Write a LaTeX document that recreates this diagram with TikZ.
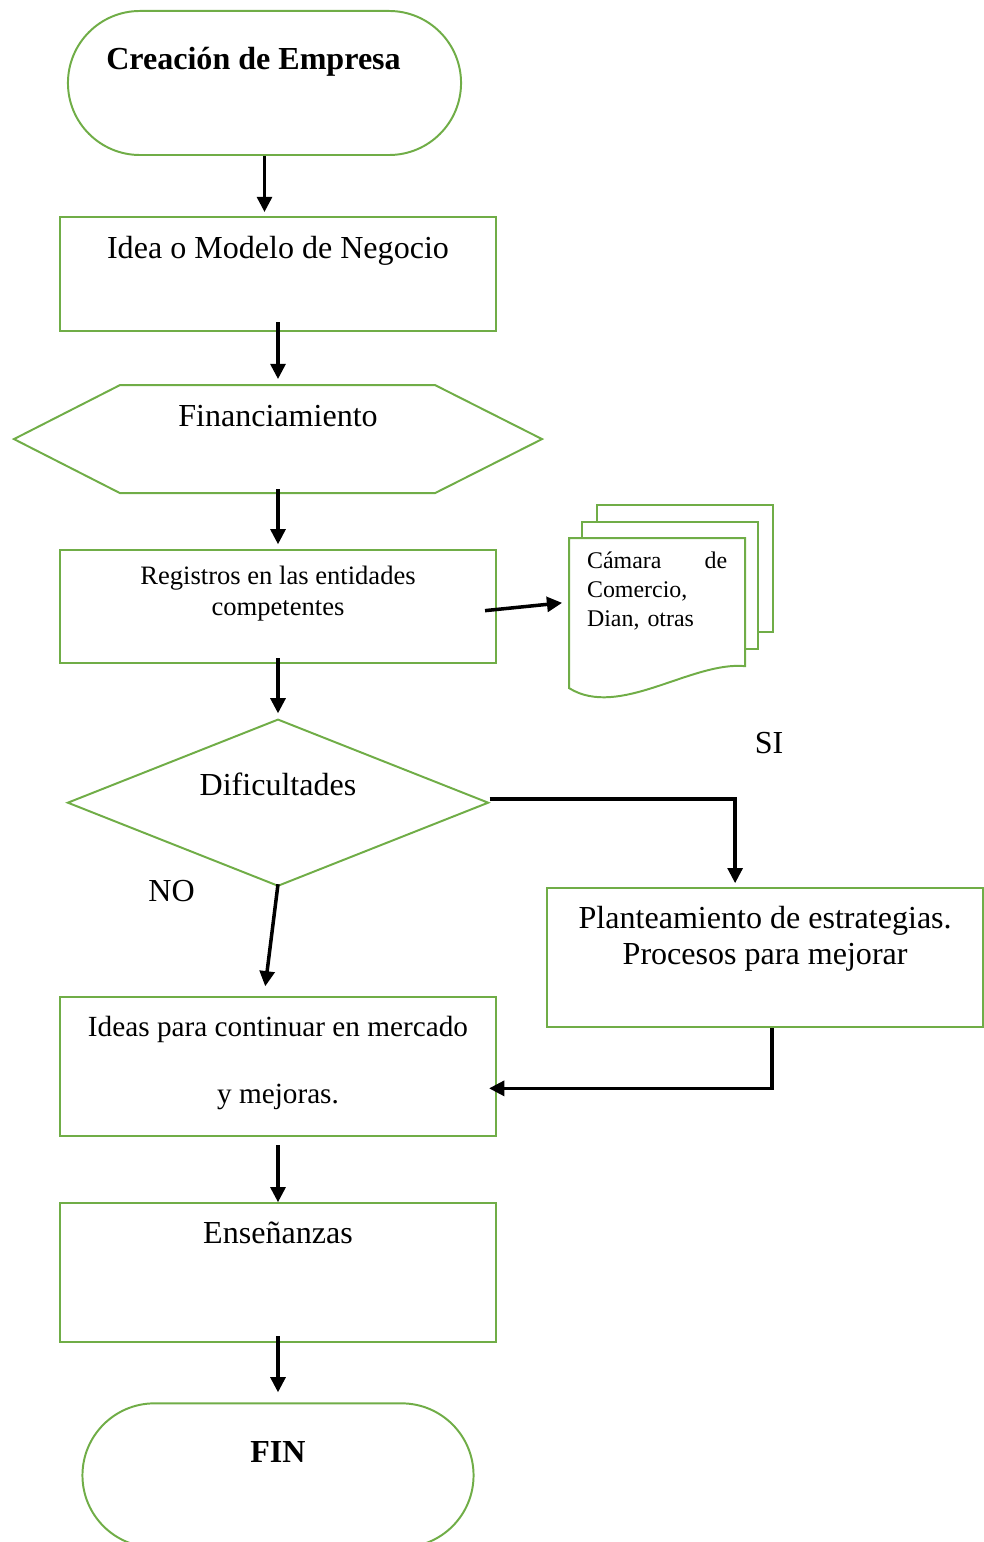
\documentclass[tikz,border=0pt]{standalone}
\usepackage{fontspec}
\setmainfont{Liberation Serif}
\usepackage{tikz}
\usetikzlibrary{positioning, arrows.meta, calc, shapes.geometric}
\usepackage[dvipsnames]{xcolor}
\definecolor{boxgreen}{HTML}{70AD47}

\begin{document}
\begin{tikzpicture}[->, >={Triangle[length=0.38cm, width=0.37cm]}, x=0.025cm, y=-0.025cm, on grid,
    box/.style={draw=boxgreen, line width=1.4pt, rectangle, inner sep=0pt, align=center,
      font=\fontsize{22.8}{25.6}\selectfont, text height=0.55cm},
    proc/.style={box, minimum width=10.9cm},
    term/.style={box, rounded corners=1.8cm, minimum height=3.6cm,
      font=\fontsize{22.8}{25.6}\selectfont\bfseries},
    tag/.style={inner sep=0pt, font=\fontsize{22.8}{25.6}\selectfont},
    flowline/.style={draw, line width=2.5pt},
    outline/.style={-, draw=boxgreen, line width=1.4pt}]
  \useasboundingbox (0,0) rectangle (984,1542);
  \clip (0,0) rectangle (984,1542);

  \node[term, minimum width=9.825cm, text depth=1.2cm] (start) at (264.5,83) {Creación de Empresa\hspace*{0.55cm}};
  \node[proc, minimum height=2.85cm, text depth=1.35cm, below right=4.775cm and 0.3375cm of start] (idea) {Idea o Modelo de Negocio};
  \node[box, draw=none, minimum width=13.15cm, minimum height=2.65cm, text depth=1.2cm, below=4.125cm of idea] (fina) {Financiamiento};
  \node[proc, minimum height=2.825cm, font=\fontsize{18.9}{22}\selectfont, text height=0.45cm, text depth=0.025cm,
    below=4.1875cm of fina] (reg) {Registros en las entidades\\competentes};
  \node[box, draw=none, minimum width=4.35cm, minimum height=3.7cm, text width=3.5cm, align=left,
    font=\fontsize{17}{20.6}\selectfont, text height=0.45cm, text depth=2.7cm,
    below right=0.1625cm and 9.475cm of reg] (docs) {Cámara\hfill de\\Comercio,\\Dian, otras};
  \node[box, diamond, aspect=2.5, minimum width=10.525cm, minimum height=4.175cm, text depth=0.9cm, below=4.9cm of reg] (dif) {Dificultades};
  \node[proc, minimum height=3.475cm, text depth=0.2cm, below right=3.875cm and 12.175cm of dif] (plan) {Planteamiento de estrategias.\\Procesos para mejorar};
  \node[proc, minimum height=3.475cm, font=\fontsize{20.8}{23.4}\selectfont, text height=2cm, text depth=0.175cm,
    below=6.6cm of dif] (ideas) {Ideas para continuar en mercado\\[0.85cm]y mejoras.};
  \node[proc, minimum height=3.475cm, text depth=2.025cm, below=5.15cm of ideas] (ens) {Enseñanzas};
  \node[term, minimum width=9.775cm, text depth=1.2cm, below=5.0625cm of ens] (fin) {FIN};

  \node[tag, above right=5.375cm and 0.1cm of plan] (si) {SI};
  \node[tag, below left=2.2cm and 2.66cm of dif] (no) {NO};

  % hexagon and stacked documents
  \draw[outline] (fina.west) -- ($(fina.north west)+(106,0)$) -- ($(fina.north east)+(-107,0)$) -- (fina.east)
    -- ($(fina.south east)+(-107,0)$) -- ($(fina.south west)+(106,0)$) -- cycle;
  \draw[outline] ($(docs.north west)+(28,-16)$) -- ++(0,-17) -- ($(docs.north east)+(28,-33)$) -- ++(0,127)
    -- ($(docs.north east)+(13,94)$);
  \draw[outline] ($(docs.north west)+(13,0)$) -- ++(0,-16) -- ($(docs.north east)+(13,-16)$) -- ++(0,127)
    -- ($(docs.north east)+(0,111)$);
  \draw[outline] (docs.north west) -- (docs.north east) -- ($(docs.south east)+(0,-22)$)
    .. controls ($(docs.south east)+(-54,-27)$) and ($(docs.south west)+(50,31)$) .. (docs.south west) -- cycle;

  \path (start.south) edge[flowline, shorten >=0.1cm] (start.south |- idea.north)
        ([yshift=0.25cm]idea.south) edge[flowline, shorten >=0.15cm] (fina.north)
        ([yshift=0.1cm]fina.south) edge[flowline, shorten >=0.12cm] (reg.north)
        ([xshift=-0.3cm, yshift=-0.1cm]reg.east) edge[flowline, shorten >=0.175cm] ([yshift=0.275cm]docs.west)
        ([yshift=0.15cm]reg.south) edge[flowline, shorten >=0.12cm] (dif.north)
        ([yshift=0.075cm]dif.south) edge[flowline, shorten >=0.25cm] ([xshift=-0.35cm]ideas.north)
        ([yshift=-0.2cm]ideas.south) edge[flowline] (ens.north)
        ([yshift=0.175cm]ens.south) edge[flowline, shorten >=0.25cm] (fin.north);
  \draw[flowline, shorten >=0.1cm] ([yshift=0.09cm]dif.east) -| ([xshift=-0.75cm]plan.north);
  \draw[flowline, shorten >=-0.2cm] ([xshift=0.175cm]plan.south) |- ([yshift=-0.54cm]ideas.east);
\end{tikzpicture}
\end{document}
